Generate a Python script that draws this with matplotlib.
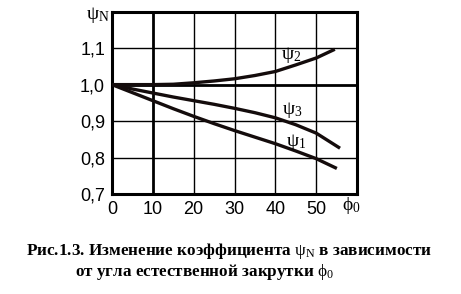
import matplotlib
matplotlib.use("Agg")
import matplotlib.pyplot as plt

plt.rcParams["mathtext.fontset"] = "custom"
plt.rcParams["mathtext.rm"] = "Liberation Serif"
plt.rcParams["mathtext.it"] = "Liberation Serif"
plt.rcParams["mathtext.bf"] = "Liberation Serif:bold"
plt.rcParams["mathtext.default"] = "rm"

# values
phi2 = [0, 5, 10, 15, 20, 25, 30, 35, 40, 45, 50, 54.2]
psi2 = [1.0, 1.0, 1.0, 1.001, 1.005, 1.01, 1.016, 1.025, 1.036, 1.054, 1.073, 1.095]
phi3 = [0, 5, 10, 15, 20, 25, 30, 35, 40, 45, 50, 55.5]
psi3 = [1.0, 0.988, 0.977, 0.966, 0.956, 0.946, 0.935, 0.923, 0.909, 0.89, 0.867, 0.828]
phi1 = [0, 5, 10, 15, 20, 25, 30, 35, 40, 45, 50, 54.7]
psi1 = [1.0, 0.978, 0.956, 0.934, 0.913, 0.893, 0.874, 0.856, 0.838, 0.818, 0.797, 0.772]

xticks = [0, 10, 20, 30, 40, 50]
yticks = [0.7, 0.8, 0.9, 1.0, 1.1]
ytick_labels = ["0,7", "0,8", "0,9", "1,0", "1,1"]

tick_font = "Liberation Sans"
ink = "#140c0c"

fig = plt.figure(figsize=(4.61, 2.94), dpi=100)
ax = fig.add_axes([112 / 461, 1 - 194 / 294, 245 / 461, 182.3 / 294])

ax.set_xlim(0, 60)
ax.set_ylim(0.7, 1.2)

# grid, the 10 and 1,0 lines drawn heavier
for x in [10, 20, 30, 40, 50]:
    ax.axvline(x, color="k", lw=2.0 if x == 10 else 1.0, zorder=1)
for y in [0.8, 0.9, 1.0, 1.1]:
    ax.axhline(y, color="k", lw=2.0 if y == 1.0 else 1.0, zorder=1)

ax.plot(phi2, psi2, color=ink, lw=2.4, zorder=3)
ax.plot(phi3, psi3, color=ink, lw=2.4, zorder=3)
ax.plot(phi1, psi1, color=ink, lw=2.4, zorder=3)

ax.text(44.0, 1.082, r"$\psi_2$", fontsize=14, ha="center", va="center")
ax.text(44.1, 0.931, r"$\psi_3$", fontsize=14, ha="center", va="center")
ax.text(45.0, 0.842, r"$\psi_1$", fontsize=14, ha="center", va="center")

for s in ax.spines.values():
    s.set_linewidth(2.2)

ax.set_xticks(xticks)
ax.set_yticks(yticks)
ax.set_yticklabels(ytick_labels)
ax.tick_params(length=0, pad=5)
for lab in ax.get_xticklabels() + ax.get_yticklabels():
    lab.set_family(tick_font)
    lab.set_fontsize(13)

fig.text(98 / 461, 1 - 15 / 294, r"$\psi_N$", fontsize=14, ha="center", va="center")
fig.text(351 / 461, 1 - 206 / 294, r"$\phi_0$", fontsize=14, ha="center", va="center")

fig.text(229 / 461, 1 - 251 / 294,
         r"Рис.1.3. Изменение коэффициента $\psi_N$ в зависимости",
         family="Liberation Serif", weight="bold", fontsize=12.3,
         ha="center", va="center")
fig.text(205 / 461, 1 - 272 / 294,
         r"от угла естественной закрутки $\phi_0$",
         family="Liberation Serif", weight="bold", fontsize=12.3,
         ha="center", va="center")

fig.savefig("out.png", dpi=100)
